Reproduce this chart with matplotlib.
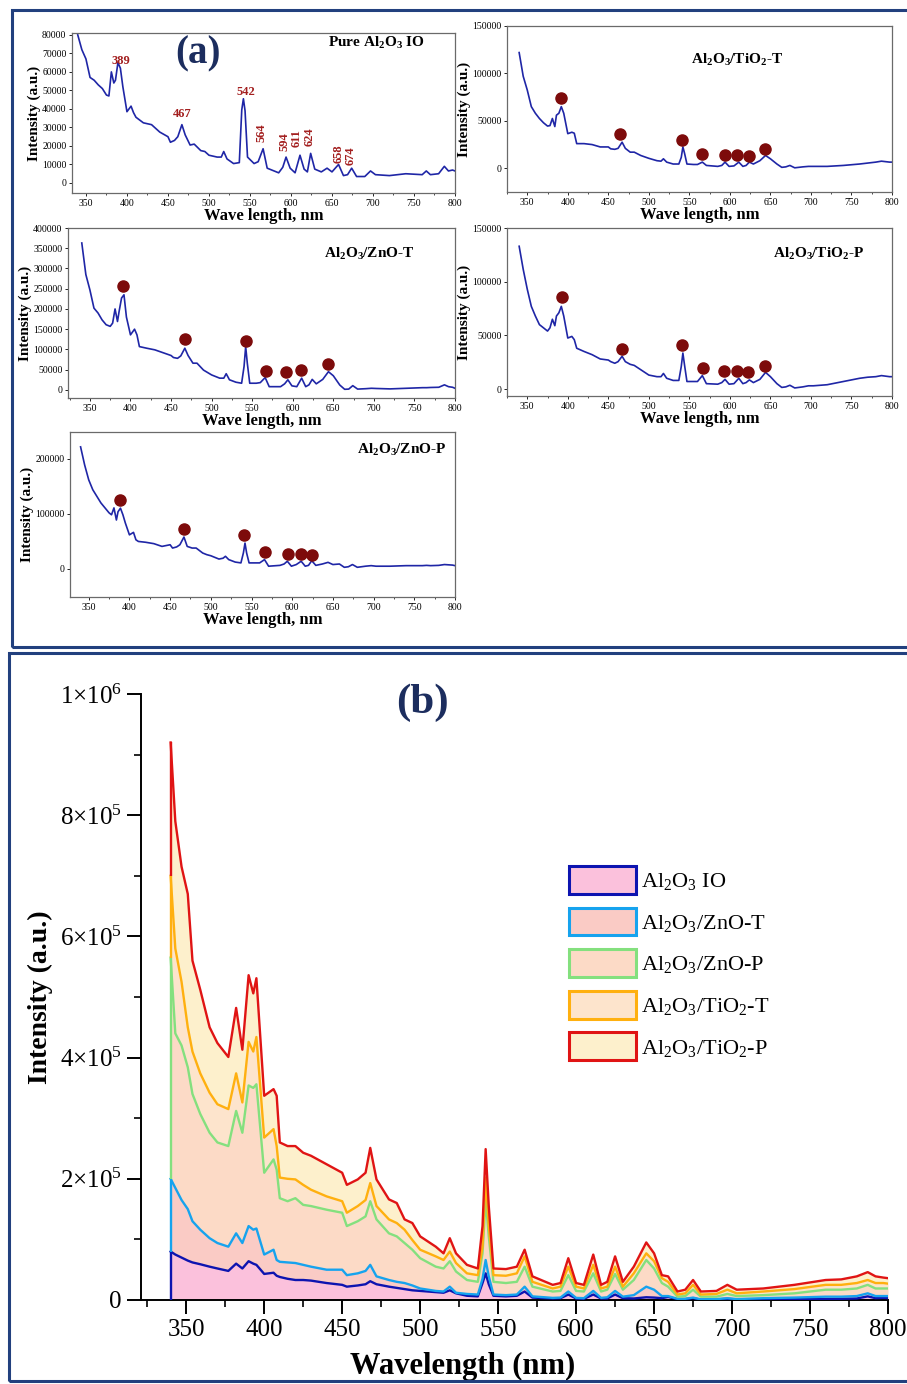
import numpy as np
import matplotlib
matplotlib.use('Agg')
import matplotlib.pyplot as plt
from matplotlib.patches import Rectangle, Patch
from matplotlib.ticker import MultipleLocator, FixedLocator, StrMethodFormatter

plt.rcParams['font.family'] = ['Liberation Serif', 'DejaVu Serif']
plt.rcParams['mathtext.fontset'] = 'custom'
plt.rcParams['mathtext.rm'] = 'Liberation Serif'
plt.rcParams['mathtext.it'] = 'Liberation Serif:italic'
plt.rcParams['mathtext.bf'] = 'Liberation Serif:bold'

# ---------------- data: panel (a) individual spectra ----------------
wl_a = [340, 345, 350, 355, 360, 365, 370, 375, 378, 381,
        384, 386, 389, 392, 395, 400, 405, 408, 411, 420,
        430, 440, 450, 453, 458, 462, 467, 471, 477, 482,
        490, 495, 500, 510, 515, 518, 522, 530, 537, 540,
        542, 544, 547, 555, 560, 566, 571, 585, 590, 594,
        599, 605, 611, 616, 620, 624, 629, 637, 644, 650,
        658, 664, 669, 674, 680, 690, 697, 703, 720, 740,
        760, 765, 770, 780, 787, 792, 797, 800]

pure_io = [80000, 72000, 67000, 57000, 55500, 53000, 51000, 47500, 47000, 60000,
           54000, 55500, 65000, 62000, 52000, 38500, 41500, 38000, 35500, 32500,
           31500, 27500, 25000, 22000, 23000, 25000, 31500, 26000, 20500, 21000,
           17500, 17000, 15000, 14000, 14000, 17000, 13000, 10500, 11000, 39500,
           45500, 39000, 14000, 10500, 11500, 18500, 8000, 5500, 8500, 14000,
           8000, 5500, 15000, 7500, 6000, 16000, 7500, 6000, 8000, 6000,
           10000, 4000, 4500, 8000, 3500, 3500, 6500, 4500, 4000, 5000,
           4500, 6500, 4500, 5000, 9000, 6500, 7000, 6500]

tio2_t = [122000, 97000, 82500, 65000, 58000, 52500, 48000, 44500, 45000, 52500,
          44000, 56000, 58000, 65000, 58000, 36500, 38000, 37000, 26000, 26000,
          25000, 22500, 22500, 20500, 20000, 21000, 27500, 21000, 17000, 17000,
          13500, 12000, 10500, 8000, 7500, 10000, 6500, 4500, 4500, 11500,
          22500, 16000, 4500, 4000, 4000, 6500, 3000, 2000, 3000, 6500,
          2000, 2500, 6500, 2000, 3000, 6500, 4500, 8000, 13500, 10000,
          4500, 1000, 1500, 3000, 500, 1500, 2000, 2000, 2000, 3000,
          4500, 5000, 5500, 6500, 7500, 7000, 6500, 6500]

zno_t = [363000, 285000, 247000, 202000, 190000, 173000, 161000, 157000, 165000, 200000,
         169000, 194000, 227000, 235000, 180000, 136000, 150000, 136000, 107000, 103000,
         99000, 92000, 85000, 80000, 78000, 84000, 103000, 85000, 66000, 66000,
         49000, 43000, 37000, 29000, 29000, 40000, 25000, 19000, 16500, 58000,
         107000, 66000, 16500, 16500, 18000, 30500, 8000, 8000, 15000, 25000,
         10000, 8000, 29000, 8000, 12500, 26000, 15000, 26000, 45000, 35000,
         12000, 1500, 2000, 10500, 2000, 3000, 4000, 3500, 2500, 4000,
         5500, 5500, 6000, 6500, 12500, 8000, 6500, 4000]

tio2_p = [133000, 111500, 93000, 77000, 68000, 60000, 57000, 54000, 57000, 65000,
          59000, 68000, 71000, 77000, 68000, 47500, 49000, 46000, 38000, 35000,
          32000, 28000, 27000, 25500, 24000, 25500, 30500, 25500, 23000, 22000,
          18000, 15500, 13000, 11500, 11500, 14500, 10000, 8000, 8000, 21000,
          33500, 22500, 7000, 7000, 7000, 12500, 5000, 4500, 6000, 9000,
          4500, 5000, 10000, 5000, 6000, 8500, 6000, 9000, 15500, 11500,
          5000, 1500, 2000, 3500, 1000, 2000, 3000, 3000, 4000, 7000,
          10000, 10500, 11000, 11500, 12500, 12000, 11500, 11500]

zno_p = [222000, 189000, 162000, 144000, 132000, 120000, 111000, 102000, 98500, 111000,
         89000, 104000, 110500, 98500, 83500, 62000, 66500, 53000, 50000, 48500,
         46000, 41000, 44000, 38000, 40000, 44000, 58000, 41000, 38000, 38000,
         29000, 26000, 24000, 18000, 19500, 23000, 17000, 12500, 11000, 29000,
         47000, 29000, 11000, 11000, 11000, 17000, 5000, 6500, 9000, 14000,
         5000, 8000, 14000, 5000, 6500, 15000, 6500, 9000, 12000, 8000,
         9000, 3000, 4000, 8000, 3000, 5000, 6000, 5000, 5000, 6000,
         6000, 6500, 6000, 6500, 8000, 7500, 7000, 6000]

# peak labels for pure Al2O3 IO
peak_lbl = ['389', '467', '542', '564', '594', '611', '624', '658', '674']
peak_lx = [393, 467, 545, 564, 592, 607, 623, 658, 673]
peak_ly = [66000, 37200, 49300, 27300, 22200, 24000, 24900, 15900, 15000]
peak_rot = [0, 0, 0, 90, 90, 90, 90, 90, 90]

# marker positions
mk_tiot_x = [392, 465, 541, 566, 594, 609, 623, 643]
mk_tiot_y = [74000, 36000, 30000, 15000, 14500, 14500, 13000, 20500]
mk_znot_x = [391, 467, 542, 567, 592, 610, 643]
mk_znot_y = [257000, 125000, 120000, 47000, 45000, 49000, 63000]
mk_tiop_x = [393, 467, 541, 567, 593, 609, 622, 643]
mk_tiop_y = [85500, 37000, 41000, 20000, 17000, 17000, 15500, 21000]
mk_znop_x = [389, 467, 541, 566, 595, 611, 624]
mk_znop_y = [126000, 72500, 61500, 31000, 28000, 28000, 26000]

# ---------------- data: panel (b) stacked spectra (cumulative tops) ----------------
wl_b = [340, 343, 347, 351, 354, 359, 365, 370, 377, 382,
        386, 390, 393, 395, 400, 406, 408, 410, 415, 420,
        425, 430, 440, 450, 453, 460, 465, 468, 472, 480,
        485, 490, 495, 500, 510, 515, 519, 523, 530, 537,
        540, 542, 544, 547, 555, 562, 567, 572, 585, 590,
        595, 600, 605, 611, 616, 620, 625, 630, 637, 645,
        650, 655, 659, 665, 670, 675, 680, 690, 697, 703,
        720, 740, 760, 770, 780, 787, 792, 797, 800]

stack_io = [80000, 75000, 70000, 65000, 62000, 59000, 55000, 52000, 48000, 60000,
            52000, 64000, 60000, 58000, 43000, 45000, 40000, 38000, 35000, 33000,
            33000, 32000, 28000, 25000, 22000, 24000, 26000, 31000, 26000, 22000,
            20000, 18000, 16000, 15000, 13000, 12000, 16000, 11000, 7000, 6000,
            28000, 44000, 26000, 7000, 6000, 7000, 14000, 4000, 2500, 3000,
            9000, 2500, 2000, 9000, 2500, 2500, 9000, 3000, 2500, 4500,
            4000, 3000, 5000, 1500, 1500, 3000, 500, 1000, 2000, 1000,
            1000, 1500, 1500, 2000, 2500, 6000, 3000, 3500, 3000]

stack_znot = [200000, 185000, 165000, 150000, 130000, 116000, 102000, 94000, 88000, 110000,
              94000, 122000, 116000, 118000, 75000, 83000, 66000, 63000, 62000, 61000,
              58000, 55000, 50000, 50000, 41000, 44000, 48000, 58000, 39000, 33000,
              30000, 28000, 24000, 19000, 15000, 14000, 22000, 12000, 10000, 9000,
              35000, 66000, 39000, 9000, 8000, 9000, 22000, 6000, 3500, 4000,
              14000, 3500, 3000, 15000, 3500, 4500, 15000, 5500, 8000, 22000,
              17000, 6500, 6500, 2000, 2000, 4000, 1000, 1500, 3000, 1500,
              3000, 4000, 5500, 5500, 6500, 11000, 6500, 6500, 6500]

stack_znop = [565000, 440000, 420000, 384000, 340000, 307000, 276000, 260000, 254000, 312000,
              276000, 354000, 350000, 356000, 210000, 232000, 215000, 168000, 163000, 168000,
              157000, 155000, 149000, 144000, 122000, 130000, 138000, 163000, 133000, 110000,
              105000, 94000, 83000, 69000, 55000, 52000, 64000, 47000, 33000, 30000,
              77000, 166000, 105000, 30000, 28000, 30000, 55000, 22000, 14000, 15000,
              41000, 15000, 14000, 44000, 14000, 17000, 43000, 17000, 33000, 66000,
              52000, 28000, 22000, 5500, 6500, 17000, 5500, 5500, 10000, 6500,
              8000, 11000, 17000, 17000, 19000, 25000, 19000, 19000, 19000]

stack_tiot = [700000, 580000, 525000, 450000, 410000, 374000, 342000, 323000, 315000, 374000,
              326000, 426000, 410000, 434000, 268000, 282000, 254000, 202000, 200000, 199000,
              190000, 182000, 171000, 163000, 144000, 155000, 165000, 193000, 155000, 133000,
              127000, 116000, 99000, 83000, 72000, 66000, 80000, 61000, 44000, 41000,
              88000, 202000, 122000, 41000, 40000, 44000, 72000, 30000, 19000, 22000,
              55000, 22000, 19000, 58000, 19000, 22000, 55000, 22000, 44000, 77000,
              64000, 36000, 30000, 9000, 11000, 25000, 9000, 10000, 17000, 11000,
              14000, 18000, 25000, 25000, 28000, 33000, 28000, 28000, 27000]

stack_tiop = [920000, 790000, 715000, 670000, 560000, 512000, 450000, 424000, 401000, 482000,
              413000, 536000, 506000, 531000, 337000, 348000, 337000, 260000, 254000, 254000,
              243000, 238000, 224000, 210000, 190000, 199000, 210000, 251000, 199000, 166000,
              160000, 133000, 127000, 105000, 88000, 77000, 102000, 77000, 58000, 52000,
              122000, 249000, 155000, 52000, 51000, 55000, 83000, 39000, 25000, 28000,
              69000, 28000, 25000, 75000, 25000, 30000, 72000, 30000, 55000, 95000,
              77000, 41000, 39000, 14000, 17000, 33000, 14000, 15000, 25000, 17000,
              19000, 25000, 33000, 34000, 39000, 46000, 39000, 37000, 36000]

legend_labels = [r'Al$_2$O$_3$ IO', r'Al$_2$O$_3$/ZnO-T', r'Al$_2$O$_3$/ZnO-P',
                 r'Al$_2$O$_3$/TiO$_2$-T', r'Al$_2$O$_3$/TiO$_2$-P']
b_ticks = [0, 200000, 400000, 600000, 800000, 1000000]
b_ticklabels = ['0', r'2$\times$10$^5$', r'4$\times$10$^5$', r'6$\times$10$^5$',
                r'8$\times$10$^5$', r'1$\times$10$^6$']

# ---------------- styles ----------------
LINE_A = '#1f26a6'
MARK = '#7d0b0b'
LBL_RED = '#a31f1f'
NAVY = '#1c2d5e'
FRAME = '#22407e'
fills = ['#fbc1dc', '#facbc5', '#fcdac6', '#fde4cc', '#fdf0cc']
edges = ['#0d14b0', '#16a3ee', '#84e07e', '#ffb00f', '#e01414']

W, H = 907, 1384
fig = plt.figure(figsize=(W / 100, H / 100), dpi=100)


def box(x0, y0, x1, y1):
    return [x0 / W, 1 - y1 / H, (x1 - x0) / W, (y1 - y0) / H]


def panel_a(rect, xlim, ylim, yticks, yvals, title, tpos, mx=None, my=None):
    ax = fig.add_axes(box(*rect))
    ax.plot(wl_a, yvals, color=LINE_A, lw=1.2)
    if mx is not None:
        ax.plot(mx, my, 'o', color=MARK, ms=8, mec=MARK)
    ax.set_xlim(*xlim)
    ax.set_ylim(*ylim)
    ax.set_xticks(range(350, 801, 50))
    ax.xaxis.set_minor_locator(MultipleLocator(25))
    ax.set_yticks(yticks)
    ax.yaxis.set_major_formatter(StrMethodFormatter('{x:.0f}'))
    ax.tick_params(labelsize=7, length=2.5, width=0.6, pad=1.5, direction='out')
    ax.tick_params(which='minor', length=1.5, width=0.5)
    for s in ax.spines.values():
        s.set_color('#6a6a6a')
        s.set_linewidth(0.9)
    ax.set_xlabel('Wave length, nm', fontsize=12, fontweight='bold', labelpad=0)
    ax.set_ylabel('Intensity (a.u.)', fontsize=11, fontweight='bold', labelpad=1)
    ax.text(tpos[0], tpos[1], title, transform=ax.transAxes, ha='center', va='center',
            fontsize=11, fontweight='bold')
    return ax


ax1 = panel_a((72, 33, 455, 193), (333, 800), (-5400, 81000), range(0, 80001, 10000),
              pure_io, r'Pure Al$_\mathbf{2}$O$_\mathbf{3}$ IO', (0.796, 0.937))
for t, x, y, r in zip(peak_lbl, peak_lx, peak_ly, peak_rot):
    ax1.text(x, y, t, color=LBL_RED, fontsize=9, fontweight='bold', rotation=r,
             ha='center', va='center')
ax1.text(0.33, 0.87, '(a)', transform=ax1.transAxes, ha='center', va='center',
         fontsize=28, fontweight='bold', color=NAVY)

panel_a((507, 26, 892, 192), (325, 800), (-25000, 150000), [0, 50000, 100000, 150000],
        tio2_t, r'Al$_\mathbf{2}$O$_\mathbf{3}$/TiO$_\mathbf{2}$-T', (0.597, 0.795),
        mk_tiot_x, mk_tiot_y)
panel_a((68, 228, 455, 398), (323, 800), (-20000, 400000), range(0, 400001, 50000),
        zno_t, r'Al$_\mathbf{2}$O$_\mathbf{3}$/ZnO-T', (0.778, 0.847),
        mk_znot_x, mk_znot_y)
panel_a((507, 228, 892, 396), (325, 800), (-6500, 150000), [0, 50000, 100000, 150000],
        tio2_p, r'Al$_\mathbf{2}$O$_\mathbf{3}$/TiO$_\mathbf{2}$-P', (0.808, 0.845),
        mk_tiop_x, mk_tiop_y)
panel_a((70, 432, 455, 597), (327, 800), (-51000, 249000), [0, 100000, 200000],
        zno_p, r'Al$_\mathbf{2}$O$_\mathbf{3}$/ZnO-P', (0.862, 0.891),
        mk_znop_x, mk_znop_y)

# ---------------- panel (b) ----------------
axb = fig.add_axes(box(141, 694, 888, 1300))
tops = [stack_io, stack_znot, stack_znop, stack_tiot, stack_tiop]
lower = np.zeros(len(wl_b))
for i, top in enumerate(tops):
    top = np.asarray(top, dtype=float)
    axb.fill_between(wl_b, lower, top, color=fills[i], lw=0, zorder=1)
    lower = top
lower = np.zeros(len(wl_b))
for i, top in enumerate(tops):
    top = np.asarray(top, dtype=float)
    axb.plot(wl_b, top, color=edges[i], lw=1.7, zorder=3 + i)
    axb.vlines(wl_b[0], lower[0], top[0], color=edges[i], lw=1.7, zorder=3 + i)
    lower = top

axb.set_xlim(321, 800)
axb.set_ylim(0, 1000000)
axb.set_xticks(range(350, 801, 50))
axb.xaxis.set_minor_locator(MultipleLocator(25))
axb.yaxis.set_major_locator(FixedLocator(b_ticks))
axb.set_yticklabels(b_ticklabels)
axb.yaxis.set_minor_locator(MultipleLocator(100000))
axb.spines['top'].set_visible(False)
axb.spines['right'].set_visible(False)
for s in ('left', 'bottom'):
    axb.spines[s].set_linewidth(1.4)
axb.tick_params(labelsize=18, length=10, width=1.4, direction='out', pad=4)
axb.tick_params(which='minor', length=5, width=1.2)
axb.set_xlabel('Wavelength (nm)', fontsize=22, fontweight='bold')
axb.xaxis.set_label_coords(0.43, -0.085)
axb.set_ylabel('Intensity (a.u.)', fontsize=20, fontweight='bold')
axb.yaxis.set_label_coords(-0.118, 0.5)
fig.text(422 / W, 1 - 703 / H, '(b)', ha='center', va='center', fontsize=31,
         fontweight='bold', color=NAVY)

handles = [Patch(facecolor=f, edgecolor=e, lw=2.2) for f, e in zip(fills, edges)]
fig.legend(handles, legend_labels, loc='upper left', bbox_to_anchor=(569 / W, 1 - 866 / H),
           bbox_transform=fig.transFigure, frameon=False, fontsize=16, borderpad=0,
           borderaxespad=0, handlelength=3.0, handleheight=1.55, labelspacing=0.62,
           handletextpad=0.25)

# ---------------- panel frames ----------------
fig.add_artist(Rectangle((12 / W, 1 - 647 / H), (930 - 12) / W, (647 - 10) / H,
                         transform=fig.transFigure, fill=False, ec=FRAME, lw=2.2))
fig.add_artist(Rectangle((9 / W, 1 - 1381 / H), (930 - 9) / W, (1381 - 653) / H,
                         transform=fig.transFigure, fill=False, ec=FRAME, lw=2.2))

fig.savefig('out.png', dpi=100)
